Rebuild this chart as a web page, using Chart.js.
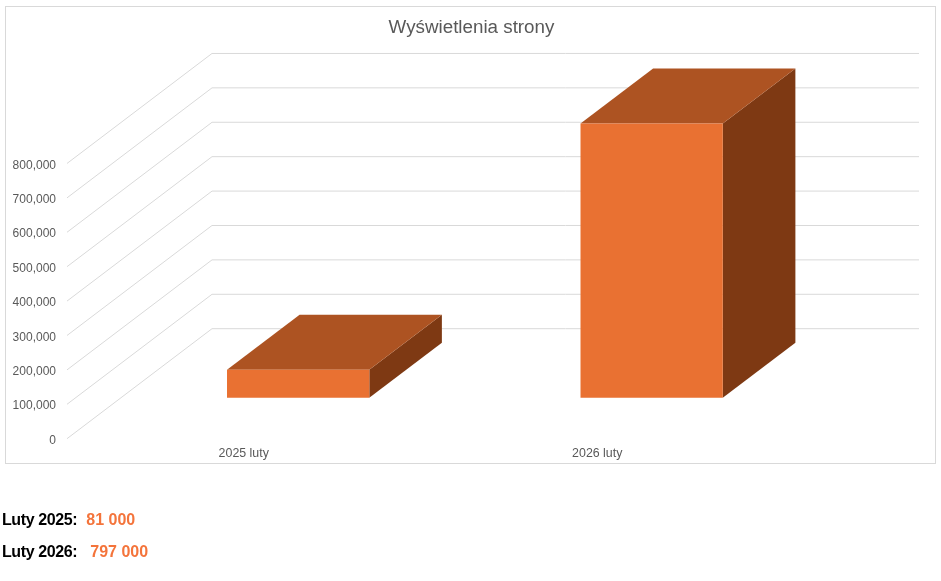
<!DOCTYPE html>
<html lang="pl">
<head>
<meta charset="utf-8">
<title>Wyświetlenia strony</title>
<script src="https://cdn.jsdelivr.net/npm/chart.js@4/dist/chart.umd.js"></script>
<style>
html,body{margin:0;padding:0;background:#fff;width:941px;height:581px;overflow:hidden;font-family:"Liberation Sans",Arial,sans-serif}
#c{position:absolute;left:0;top:0}
.frame{position:absolute;left:5px;top:6px;width:929px;height:456px;border:1px solid #d9d9d9}
.note{position:absolute;left:2px;font-weight:bold;font-size:16px;line-height:18px;color:#000;white-space:pre;letter-spacing:-0.4px}
.note span{color:#f4743b;letter-spacing:0;margin-left:1px}
</style>
</head>
<body>
<div class="frame"></div>
<canvas id="c" width="941" height="581"></canvas>
<div class="note" style="top:511px">Luty 2025:  <span>81 000</span></div>
<div class="note" style="top:543px">Luty 2026:   <span>797 000</span></div>
<script>
const categories = ['2025 luty', '2026 luty'];
const pageViews = [81000, 797000];
const tickValues = [0, 100000, 200000, 300000, 400000, 500000, 600000, 700000, 800000];
const chartTitle = 'Wyświetlenia strony';

const labelDrop = 1.8;
const wall = { dx: 145, dy: -110, color: '#d9d9d9' };
const barShift = { dx: 54.4, dy: -41 - labelDrop };
const barDepth = { dx: 72.6, dy: -55 };
const colors = { front: '#e97132', top: '#ad5322', side: '#7e3913' };

const poly = (ctx, pts, fill) => {
  ctx.beginPath();
  pts.forEach((p, i) => i ? ctx.lineTo(p[0], p[1]) : ctx.moveTo(p[0], p[1]));
  ctx.closePath();
  ctx.fillStyle = fill;
  ctx.fill();
};

const box3d = {
  id: 'box3d',
  afterLayout(chart) {
    chart.titleBlock.left = 0;
    chart.titleBlock.right = 943;
  },
  beforeDatasetsDraw(chart) {
    const { ctx, chartArea: a, scales: { y } } = chart;
    ctx.save();
    ctx.strokeStyle = wall.color;
    ctx.lineWidth = 1;
    y.ticks.forEach(t => {
      const p = y.getPixelForValue(t.value) - labelDrop;
      ctx.beginPath();
      ctx.moveTo(a.left, p);
      ctx.lineTo(a.left + wall.dx, p + wall.dy);
      ctx.lineTo(a.right + wall.dx, p + wall.dy);
      ctx.stroke();
    });
    ctx.restore();
  },
  beforeDatasetDraw(chart, args) {
    const ctx = chart.ctx;
    ctx.save();
    ctx.translate(barShift.dx, barShift.dy);
    args.meta.data.forEach(b => {
      const l = b.x - b.width / 2, r = b.x + b.width / 2, t = b.y, base = b.base;
      const ox = barDepth.dx, oy = barDepth.dy;
      poly(ctx, [[r, t], [r + ox, t + oy], [r + ox, base + oy], [r, base]], colors.side);
      poly(ctx, [[l, t], [l + ox, t + oy], [r + ox, t + oy], [r, t]], colors.top);
    });
  },
  afterDatasetDraw(chart) {
    chart.ctx.restore();
  }
};

new Chart(document.getElementById('c'), {
  type: 'bar',
  data: {
    labels: categories,
    datasets: [{
      label: chartTitle,
      data: pageViews,
      backgroundColor: colors.front,
      borderWidth: 0,
      barPercentage: 0.4025,
      categoryPercentage: 1,
      clip: false
    }]
  },
  options: {
    responsive: false,
    animation: false,
    devicePixelRatio: 1,
    layout: { padding: { top: 0, left: 0, right: 167, bottom: 115.5 } },
    plugins: {
      legend: { display: false },
      tooltip: { enabled: false },
      title: {
        display: true,
        text: chartTitle,
        color: '#595959',
        font: { family: '"Liberation Sans"', size: 18.8, weight: 'normal', lineHeight: 1.2 },
        padding: { top: 17, bottom: 125.7 }
      }
    },
    scales: {
      x: {
        grid: { display: false, drawTicks: false },
        border: { display: false },
        ticks: { color: '#595959', padding: 5.2, font: { family: '"Liberation Sans"', size: 12.4 }, maxRotation: 0 },
        afterFit(s) { s.height = 25; }
      },
      y: {
        min: 0,
        max: tickValues[tickValues.length - 1],
        afterBuildTicks(s) { s.ticks = tickValues.map(value => ({ value })); },
        grid: { display: false, drawTicks: false },
        border: { display: false },
        ticks: {
          color: '#595959',
          padding: 11,
          font: { family: '"Liberation Sans"', size: 12 },
          callback: v => v.toLocaleString('en-US')
        },
        afterFit(s) { s.width = 67; }
      }
    }
  },
  plugins: [box3d]
});
</script>
</body>
</html>
